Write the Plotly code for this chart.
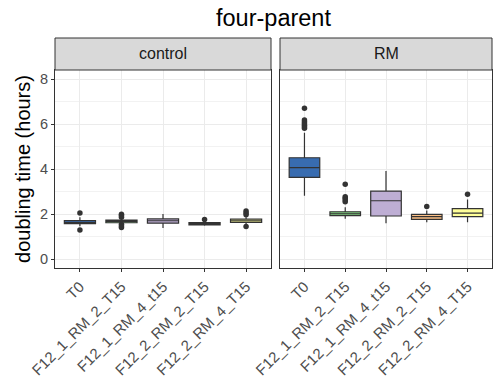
import plotly.graph_objects as go

# Strains (x categories) shared by both panels
strains = ["T0", "F12_1_RM_2_T15", "F12_1_RM_4_t15", "F12_2_RM_2_T15", "F12_2_RM_4_T15"]
fills = ["#386CB0", "#7FC97F", "#BEAED4", "#FDC086", "#FFFF99"]
panels = ["control", "RM"]

# Box summary statistics (hours) per panel, in strain order
control_q1 = [1.57, 1.61, 1.59, 1.52, 1.63]
control_med = [1.63, 1.67, 1.70, 1.57, 1.70]
control_q3 = [1.71, 1.73, 1.78, 1.62, 1.77]
control_lo = [1.45, 1.55, 1.38, 1.48, 1.50]
control_hi = [1.85, 1.80, 2.00, 1.70, 1.86]
control_out = [
    [2.04, 1.29],
    [1.99, 1.93, 1.86, 1.54, 1.47, 1.40],
    [],
    [1.76],
    [2.13, 2.05, 1.97, 1.44],
]

rm_q1 = [3.63, 1.93, 1.91, 1.76, 1.88]
rm_med = [4.06, 2.01, 2.59, 1.88, 2.04]
rm_q3 = [4.50, 2.10, 3.02, 1.98, 2.24]
rm_lo = [2.81, 1.79, 1.59, 1.63, 1.63]
rm_hi = [5.61, 2.30, 3.91, 2.15, 2.65]
rm_out = [
    [6.70, 6.18, 6.10, 6.02, 5.95, 5.88, 5.81],
    [3.32, 2.77, 2.70, 2.62, 2.55],
    [],
    [2.33],
    [2.88],
]

stats = {
    "control": (control_q1, control_med, control_q3, control_lo, control_hi, control_out),
    "RM": (rm_q1, rm_med, rm_q3, rm_lo, rm_hi, rm_out),
}

fig = go.Figure()
line_col = "#333333"
FONT = "Liberation Sans, Arial, sans-serif"

for p_idx, panel in enumerate(panels):
    q1, med, q3, lo, hi, out = stats[panel]
    xa = "x" if p_idx == 0 else "x2"
    ya = "y" if p_idx == 0 else "y2"
    for i, s in enumerate(strains):
        fig.add_trace(go.Box(
            x=[s], q1=[q1[i]], median=[med[i]], q3=[q3[i]],
            lowerfence=[lo[i]], upperfence=[hi[i]],
            fillcolor=fills[i], line=dict(color=line_col, width=1.2),
            width=0.75, whiskerwidth=0, boxpoints=False,
            xaxis=xa, yaxis=ya, showlegend=False, hoverinfo="skip",
        ))
        if out[i]:
            fig.add_trace(go.Scatter(
                x=[s] * len(out[i]), y=out[i], mode="markers",
                marker=dict(color=line_col, size=5.5),
                xaxis=xa, yaxis=ya, showlegend=False, hoverinfo="skip",
            ))

W, H = 493, 388
ml, mr, mt, mb = 55, 1, 70, 120
pw = W - ml - mr
ph = H - mt - mb
d1 = [0, 216 / pw]
d2 = [225 / pw, 1]

tickfont = dict(family=FONT, size=15, color="#4D4D4D")
xcommon = dict(
    type="category", categoryorder="array", categoryarray=strains,
    range=[-0.6, 4.6], showgrid=True, gridcolor="#EBEBEB", gridwidth=1,
    showline=True, mirror=True, linecolor=line_col, linewidth=1,
    ticks="outside", ticklen=3, tickcolor=line_col, tickangle=-45,
    tickfont=tickfont, zeroline=False, fixedrange=True, automargin=False,
)
ycommon = dict(
    range=[-0.4, 8.4], tickvals=[0, 2, 4, 6, 8], showgrid=True,
    gridcolor="#EBEBEB", gridwidth=1,
    minor=dict(tickvals=[1, 3, 5, 7], showgrid=True, gridcolor="#F2F2F2", gridwidth=0.6),
    showline=True, mirror=True, linecolor=line_col, linewidth=1,
    zeroline=False, fixedrange=True, automargin=False,
)

fig.update_layout(
    width=W, height=H,
    margin=dict(l=ml, r=mr, t=mt, b=mb),
    paper_bgcolor="white", plot_bgcolor="white",
    font=dict(family=FONT),
    title=dict(text="four-parent", x=(ml + pw / 2) / W, xanchor="center",
               y=1 - 18 / H, yanchor="middle",
               font=dict(size=23.5, color="black")),
    xaxis=dict(domain=d1, anchor="y", **xcommon),
    xaxis2=dict(domain=d2, anchor="y2", **xcommon),
    yaxis=dict(domain=[0, 1], anchor="x", ticks="outside", ticklen=3,
               tickcolor=line_col, tickfont=dict(family=FONT, size=14.5, color="#4D4D4D"),
               title=dict(text="doubling time (hours)", standoff=4,
                          font=dict(size=20, color="black")),
               **ycommon),
    yaxis2=dict(domain=[0, 1], anchor="x2", matches="y", showticklabels=False,
                ticks="", **ycommon),
)

# Facet strips above each panel
strip_h = 32
for dom, label in zip([d1, d2], panels):
    fig.add_shape(type="rect", xref="paper", yref="paper",
                  x0=dom[0], x1=dom[1], y0=1, y1=1 + strip_h / ph,
                  fillcolor="#D9D9D9", line=dict(color=line_col, width=1))
    fig.add_annotation(text=label, xref="paper", yref="paper",
                       x=(dom[0] + dom[1]) / 2, y=1 + strip_h / 2 / ph,
                       showarrow=False, xanchor="center", yanchor="middle",
                       font=dict(family=FONT, size=16, color="#1A1A1A"))

fig.write_html("out.html")
